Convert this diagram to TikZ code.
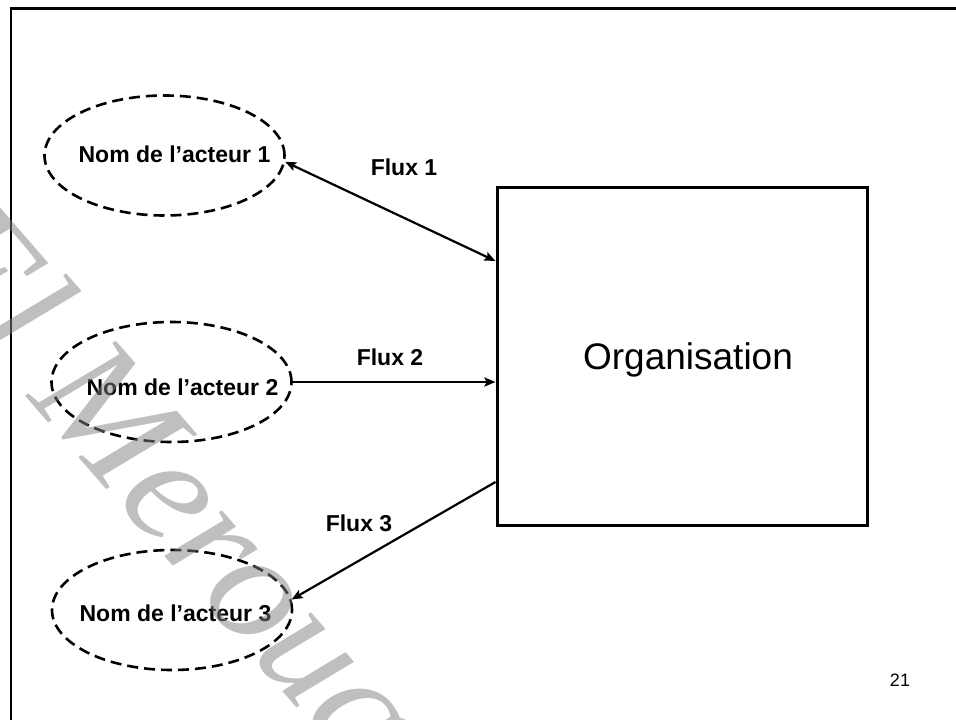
\documentclass[tikz,border=0pt]{standalone}
\usepackage{fontspec}
\setmainfont{Liberation Sans}
\newfontfamily\wmfont{Liberation Serif}
\usetikzlibrary{shapes.geometric,arrows.meta}
\begin{document}
\begin{tikzpicture}[x=1pt,y=-1pt,
  actor/.style={draw, ellipse, dash pattern=on 11pt off 6pt, line width=2.6pt,
    minimum width=240pt, minimum height=120pt, inner sep=0pt},
  orgbox/.style={draw, rectangle, line width=3pt, minimum width=370pt,
    minimum height=338pt, inner sep=0pt},
  tip/.style={Stealth[length=11pt,width=9pt,inset=2pt]},
  flow/.style={line width=2.2pt, -{Stealth[length=11pt,width=9pt,inset=2pt]}},
  flowboth/.style={line width=2.2pt, {Stealth[length=11pt,width=9pt,inset=2pt]}-{Stealth[length=11pt,width=9pt,inset=2pt]}},
  lbl/.style={font=\bfseries\fontsize{23}{23}\selectfont, anchor=base, inner sep=0pt},
  frame/.style={line width=2.8pt},
  wm/.style={font=\wmfont\itshape\fontsize{160}{160}\selectfont, text=black!50,
    text opacity=0.5, inner sep=0pt}
]
\useasboundingbox (0,0) rectangle (956,720);

% page frame
\coordinate (ftl) at (11,8.5);
\coordinate (ftr) at (960,8.5);
\coordinate (fbl) at (11,724);
\draw[frame] (fbl) -- (ftl) -- (ftr);

% actors
\node[actor] (e1) at (164.5,155.5) {};
\node[actor] (e2) at (171.5,382) {};
\node[actor] (e3) at (172,610) {};
\node[lbl] (t1) at (174.5,162.3) {Nom de l’acteur 1};
\node[lbl] (t2) at (182.5,395) {Nom de l’acteur 2};
\node[lbl] (t3) at (175.5,621.7) {Nom de l’acteur 3};

% organisation
\node[orgbox] (org) at (682,356) {};
\node[anchor=base, inner sep=0pt, font=\fontsize{37}{37}\selectfont] (orgtxt) at (688,369) {Organisation};

% flows
\draw[flowboth] (e1.-3) -- ([yshift=95pt]org.west);
\draw[flow] (e2.east) -- ([yshift=-26pt]org.west);
\draw[flow] ([yshift=-126pt]org.west) -- (e3.5);
\node[lbl] (f1) at (404,175.7) {Flux 1};
\node[lbl] (f2) at (390,365) {Flux 2};
\node[lbl] (f3) at (359,531) {Flux 3};

% page number
\node[anchor=base, inner sep=0pt, font=\fontsize{18}{18}\selectfont] (pg) at (900,686) {21};

% watermark
\begin{scope}
\clip (0,0) rectangle (956,720);
\node[wm, rotate=-49, anchor=base west] (wmark) at (-93,260) {El Merouani};
\end{scope}
\end{tikzpicture}
\end{document}
